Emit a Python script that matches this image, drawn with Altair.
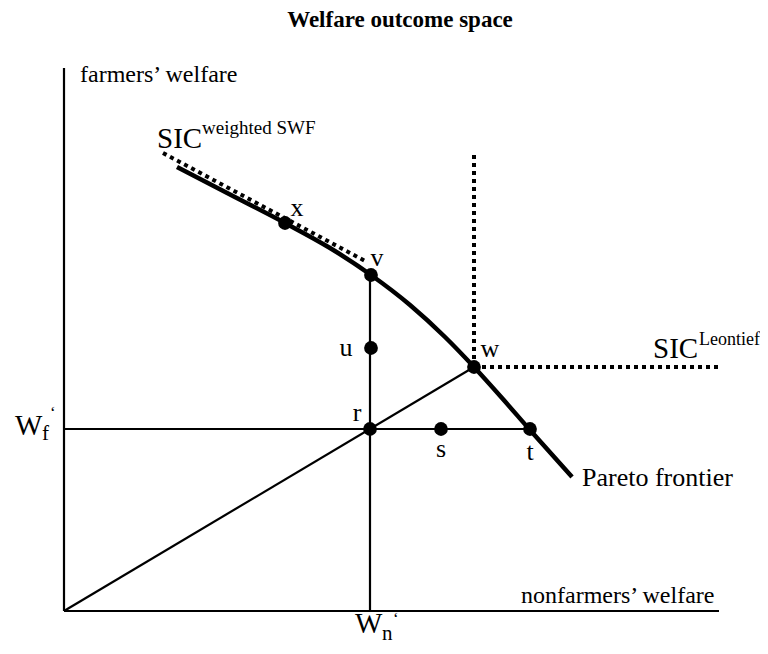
import altair as alt
import pandas as pd

# Coordinates: nonfarmers' welfare (x), farmers' welfare (y), origin = (0, 0)
frontier_x = [113, 167, 221, 266, 307, 346, 381, 410, 438, 466, 508]
frontier_y = [444, 416, 388, 363, 336, 306, 274, 244, 213, 181, 134]

point_names = ["x", "v", "u", "w", "r", "s", "t"]
point_x = [221, 307, 307, 410, 306, 377, 466]
point_y = [388, 336, 263, 244, 182, 182, 182]

# point label positions (center, baseline)
label_x = [233, 313, 282, 426, 293, 377, 466]
label_y = [395, 345, 255, 254, 190, 154, 151]

# solid thin segments: axes, W_f' line, W_n' line, ray through w
seg_x1 = [0, 0, 0, 306, 0]
seg_y1 = [0, 0, 182, 0, 0]
seg_x2 = [0, 655, 466, 306, 410]
seg_y2 = [543, 0, 182, 336, 244]

# dotted social indifference curves
dot_x1 = [99, 410, 410]
dot_y1 = [458, 244, 244]
dot_x2 = [303, 410, 656]
dot_y2 = [349, 459, 244]

XDOM = [-56, 696]
YDOM = [-35, 603]
W, H = 752, 638

xs = alt.Scale(domain=XDOM, nice=False, zero=False)
ys = alt.Scale(domain=YDOM, nice=False, zero=False)

FONT = "Liberation Serif"

seg_df = pd.DataFrame({"x": seg_x1, "y": seg_y1, "x2": seg_x2, "y2": seg_y2})
dot_df = pd.DataFrame({"x": dot_x1, "y": dot_y1, "x2": dot_x2, "y2": dot_y2})
front_df = pd.DataFrame({"x": frontier_x, "y": frontier_y})
pts_df = pd.DataFrame({"name": point_names, "x": point_x, "y": point_y,
                       "lx": label_x, "ly": label_y})

segs = alt.Chart(seg_df).mark_rule(color="black", strokeWidth=2.2).encode(
    x=alt.X("x:Q", scale=xs, axis=None), y=alt.Y("y:Q", scale=ys, axis=None),
    x2="x2:Q", y2="y2:Q")

dots = alt.Chart(dot_df).mark_rule(color="black", strokeWidth=4,
                                   strokeDash=[4, 4], strokeCap="butt").encode(
    x=alt.X("x:Q", scale=xs, axis=None), y=alt.Y("y:Q", scale=ys, axis=None),
    x2="x2:Q", y2="y2:Q")

frontier = alt.Chart(front_df).mark_line(color="black", strokeWidth=4.5,
                                         interpolate="monotone").encode(
    x=alt.X("x:Q", scale=xs, axis=None), y=alt.Y("y:Q", scale=ys, axis=None))

points = alt.Chart(pts_df).mark_circle(color="black", opacity=1, size=190).encode(
    x=alt.X("x:Q", scale=xs, axis=None), y=alt.Y("y:Q", scale=ys, axis=None))

plabels = alt.Chart(pts_df).mark_text(font=FONT, fontSize=26, color="black",
                                      align="center", baseline="alphabetic").encode(
    x=alt.X("lx:Q", scale=xs, axis=None), y=alt.Y("ly:Q", scale=ys, axis=None),
    text="name:N")

# free text annotations
txt_text = ["Welfare outcome space", "farmers’ welfare", "nonfarmers’ welfare",
            "Pareto frontier", "SIC", "weighted SWF", "SIC", "Leontief",
            "W", "f", "‘", "W", "n", "‘"]
txt_x = [336, 16, 457, 518, 93, 138, 589, 635, -49, -22, -14, 291, 318, 329]
txt_y = [584, 529, 8, 125, 463, 477, 253, 266, 176, 171, 193, -22, -29, -13]
txt_size = [23, 24, 24, 26, 29, 19, 29, 18, 29, 21, 17, 29, 21, 17]
txt_weight = ["bold"] + ["normal"] * 13
txt_align = ["center"] + ["left"] * 13

txt_df = pd.DataFrame({"t": txt_text, "x": txt_x, "y": txt_y, "s": txt_size,
                       "w": txt_weight, "a": txt_align})

layers = [segs, dots, frontier, points, plabels]
for i in range(len(txt_df)):
    row = txt_df.iloc[[i]]
    layers.append(
        alt.Chart(row).mark_text(font=FONT, fontSize=int(row["s"].iloc[0]),
                                 fontWeight=row["w"].iloc[0], color="black",
                                 align=row["a"].iloc[0], baseline="alphabetic").encode(
            x=alt.X("x:Q", scale=xs, axis=None), y=alt.Y("y:Q", scale=ys, axis=None),
            text="t:N"))

chart = alt.layer(*layers).properties(
    width=W, height=H, padding=0, autosize=alt.AutoSizeParams(type="none"),
    background="white"
).configure_view(stroke=None)

chart.save("out.html", embed_options={"renderer": "svg", "actions": False})
